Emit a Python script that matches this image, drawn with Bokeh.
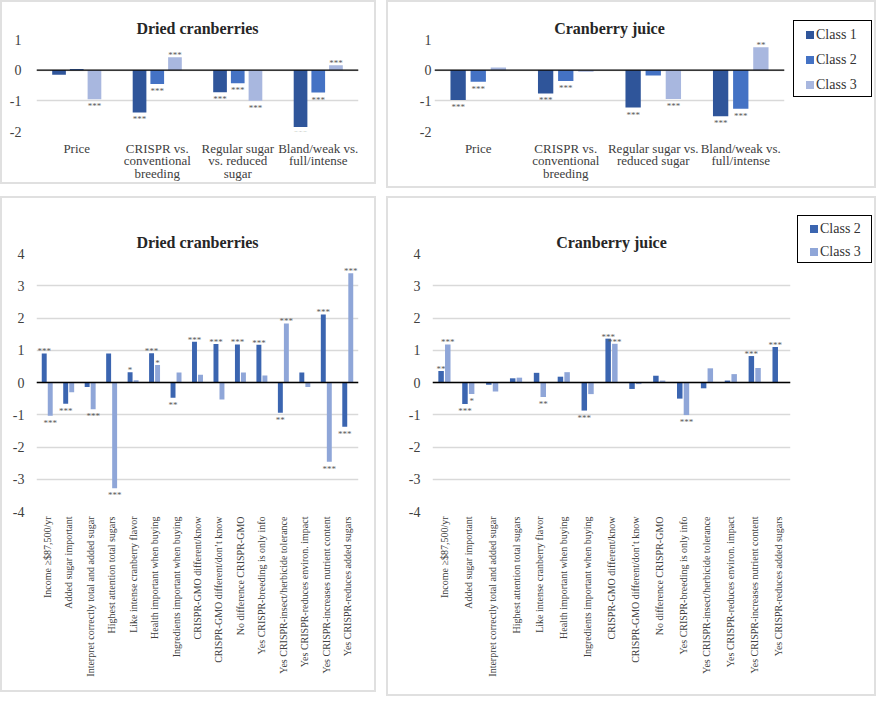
import math
from bokeh.plotting import figure
from bokeh.models import (ColumnDataSource, Span, FixedTicker, FactorRange, Range1d, Div)
from bokeh.transform import dodge
from bokeh.layouts import column, row
from bokeh.embed import file_html
from bokeh.resources import INLINE
from bokeh.core.properties import value

FONT = "Liberation Serif"
BORDER = {"border": "2px solid #e0e0e0"}

# ---------------- data ----------------
top_cats_dc = ["Price", "CRISPR vs.\nconventional\nbreeding",
               "Regular sugar\nvs. reduced\nsugar", "Bland/weak vs.\nfull/intense"]
dc_c1 = [-0.15, -1.38, -0.72, -1.85]
dc_c2 = [0.04, -0.45, -0.43, -0.73]
dc_c3 = [-0.95, 0.42, -1.00, 0.16]
dc_s1 = ["", "***", "***", "***"]
dc_s2 = ["", "***", "***", "***"]
dc_s3 = ["***", "***", "***", "***"]

top_cats_cj = ["Price", "CRISPR vs.\nconventional\nbreeding",
               "Regular sugar vs.\nreduced sugar", "Bland/weak vs.\nfull/intense"]
cj_c1 = [-0.97, -0.76, -1.22, -1.50]
cj_c2 = [-0.38, -0.35, -0.17, -1.26]
cj_c3 = [0.09, -0.05, -0.94, 0.75]
cj_s1 = ["***", "***", "***", "***"]
cj_s2 = ["***", "***", "", "***"]
cj_s3 = ["", "", "***", "**"]

attrs = ["Income \u2265$87,500/yr", "Added sugar important",
         "Interpret correctly total and added sugar", "Highest attention total sugars",
         "Like intense cranberry flavor", "Health important when buying",
         "Ingredients important when buying", "CRISPR-GMO different/know",
         "CRISPR-GMO different/don\u2019t know", "No difference CRISPR-GMO",
         "Yes CRISPR-breeding is only info", "Yes CRISPR-insect/herbicide tolerance",
         "Yes CRISPR-reduces environ. impact", "Yes CRISPR-increases nutrient content",
         "Yes CRISPR-reduces added sugars"]
dcb_c2 = [0.90, -0.66, -0.14, 0.90, 0.32, 0.91, -0.47, 1.26, 1.19, 1.18, 1.17, -0.94, 0.31, 2.11, -1.37]
dcb_c3 = [-1.03, -0.30, -0.83, -3.28, 0.07, 0.54, 0.31, 0.24, -0.53, 0.31, 0.22, 1.83, -0.14, -2.46, 3.39]
dcb_s2 = ["***", "***", "", "", "*", "***", "**", "***", "***", "***", "***", "**", "", "***", "***"]
dcb_s3 = ["***", "", "***", "***", "", "*", "", "", "", "", "", "***", "", "***", "***"]

cjb_c2 = [0.36, -0.67, -0.07, 0.13, 0.30, 0.18, -0.87, 1.36, -0.20, 0.21, -0.50, -0.18, 0.06, 0.82, 1.10]
cjb_c3 = [1.18, -0.36, -0.28, 0.15, -0.45, 0.32, -0.36, 1.20, -0.05, 0.06, -1.01, 0.44, 0.26, 0.45, 0.00]
cjb_s2 = ["**", "***", "", "", "", "", "***", "***", "", "", "", "", "", "***", "***"]
cjb_s3 = ["***", "*", "", "", "**", "", "", "***", "", "", "***", "", "", "", ""]

top_classes = ["Class 1", "Class 2", "Class 3"]
bottom_classes = ["Class 2", "Class 3"]
top_ticks = [-2, -1, 0, 1]
bottom_ticks = [-4, -3, -2, -1, 0, 1, 2, 3, 4]

TOP_COLORS = ["#2F559A", "#4472C4", "#A8B7DF"]
BOT_COLORS = ["#3B65B0", "#8FA6D8"]


def panel(title, cats, series, stars, colors, w, h, mb, yr, ticks,
          offsets, bw, xlab_size, vertical, title_off, ystandoff, border=True):
    p = figure(x_range=FactorRange(factors=cats), y_range=Range1d(*yr),
               width=w, height=h, output_backend="svg", toolbar_location=None,
               min_border_left=mb[0], min_border_right=mb[1],
               min_border_top=mb[2], min_border_bottom=mb[3],
               background_fill_color="white", border_fill_color="white")
    if border:
        p.styles = BORDER
    p.outline_line_color = None
    p.title.text = title
    p.title.align = "center"
    p.title.offset = title_off
    p.title.standoff = 6
    p.title.text_font = FONT
    p.title.text_font_size = "16px"
    p.title.text_font_style = "bold"
    p.title.text_color = "#262626"

    p.xgrid.grid_line_color = None
    p.ygrid.grid_line_color = "#d9d9d9"
    p.ygrid.grid_line_width = 1.3
    p.yaxis.ticker = FixedTicker(ticks=ticks)
    p.yaxis.major_label_overrides = {t: str(t) for t in ticks}
    for ax in (p.xaxis, p.yaxis):
        ax.axis_line_color = None
        ax.major_tick_line_color = None
        ax.minor_tick_line_color = None
        ax.major_tick_out = 0
        ax.major_tick_in = 0
        ax.minor_tick_out = 0
        ax.major_label_text_font = FONT
        ax.major_label_text_color = "#404040"
    p.yaxis.major_label_text_font_size = "14px"
    p.yaxis.major_label_standoff = ystandoff
    p.xaxis.major_label_text_font_size = xlab_size
    if vertical:
        p.xaxis.major_label_orientation = math.pi / 2
        p.xaxis.major_label_standoff = 5
    else:
        p.xaxis.major_label_standoff = 9
        p.xaxis.major_label_text_line_height = 0.85

    for vals, st, col, off in zip(series, stars, colors, offsets):
        src = ColumnDataSource(dict(
            x=cats, top=vals, star=st,
            base=["top" if v < 0 else "alphabetic" for v in vals],
            yoff=[2 if v < 0 else -2 for v in vals]))
        p.vbar(x=dodge("x", off, range=p.x_range), top="top", width=bw,
               fill_color=col, line_color=None, source=src)
        p.text(x=dodge("x", off, range=p.x_range), y="top", text="star",
               text_baseline="base", y_offset="yoff", text_align="center",
               text_font=value(FONT), text_font_size="9px",
               text_color="#595959", source=src)

    p.add_layout(Span(location=0, dimension="width", line_color="black",
                      line_width=1.3))
    return p


def legend_div(names, colors, w, h, top, row_h):
    rows = "".join(
        f'<div style="height:{row_h}px;line-height:{row_h}px;white-space:nowrap">'
        f'<span style="display:inline-block;width:8px;height:8px;background:{c};'
        f'margin-right:2px;vertical-align:middle"></span>'
        f'<span style="vertical-align:middle">{n}</span></div>'
        for n, c in zip(names, colors))
    html = (f'<div style="margin-top:{top}px;margin-left:1px;width:{w - 3}px;'
            f'box-sizing:border-box;border:1.3px solid #000;padding:0 0 0 12px;'
            f'font-family:\'{FONT}\';font-size:14px;color:#333333;background:white">'
            f'{rows}</div>')
    return Div(text=html, width=w, height=h, margin=0)


p1 = panel("Dried cranberries", top_cats_dc, [dc_c1, dc_c2, dc_c3],
           [dc_s1, dc_s2, dc_s3], TOP_COLORS,
           376, 184, (34, 20, 37, 55), (-2, 1), top_ticks,
           [-0.22, 0.0, 0.22], 0.17, "13px", False, -14, 15)

p2 = panel("Cranberry juice", top_cats_cj, [cj_c1, cj_c2, cj_c3],
           [cj_s1, cj_s2, cj_s3], TOP_COLORS,
           404, 184, (46, 8, 37, 55), (-2, 1), top_ticks,
           [-0.23, 0.0, 0.23], 0.175, "13px", False, -12, 3, border=False)
l2 = legend_div(top_classes, TOP_COLORS, 82, 184, 18, 25)

p3 = panel("Dried cranberries", attrs, [dcb_c2, dcb_c3], [dcb_s2, dcb_s3],
           BOT_COLORS, 376, 496, (34, 20, 55, 183), (-4, 4), bottom_ticks,
           [-0.14, 0.14], 0.23, "10px", True, -14, 12)

p4 = panel("Cranberry juice", attrs, [cjb_c2, cjb_c3], [cjb_s2, cjb_s3],
           BOT_COLORS, 408, 496, (44, 6, 55, 183),
           (-4, 4), bottom_ticks, [-0.14, 0.14], 0.23, "10px", True, -16, 12,
           border=False)
l4 = legend_div(bottom_classes, BOT_COLORS, 78, 496, 17, 23)

right_top = row(p2, l2, spacing=0, styles=BORDER)
right_bot = row(p4, l4, spacing=0, styles=BORDER)

layout = column(row(p1, right_top, spacing=10), row(p3, right_bot, spacing=10),
                spacing=8)

open("out.html", "w").write(file_html(layout, INLINE))
